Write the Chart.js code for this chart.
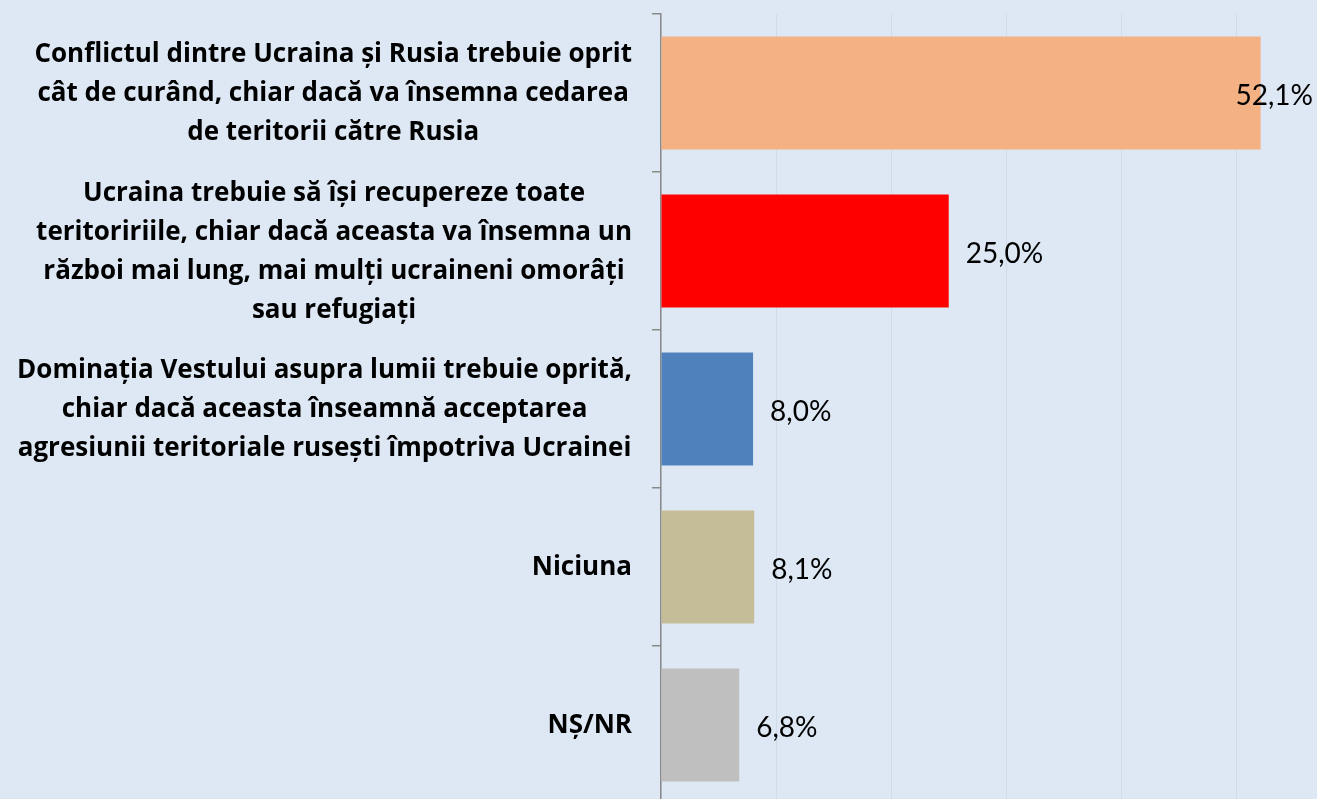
<!DOCTYPE html>
<html>
<head>
<meta charset="utf-8">
<script src="https://cdn.jsdelivr.net/npm/chart.js@4"></script>
<style>
    html, body { margin: 0; padding: 0; background: #dde8f4; overflow: hidden; }
    #wrap { position: relative; width: 1317px; height: 804px; }
</style>
</head>
<body>
<div id="wrap"><canvas id="chart"></canvas></div>
<script>
// Categories (multi-line, as in the original)
const categories = [
    ['Conflictul dintre Ucraina și Rusia trebuie oprit', 'cât de curând, chiar dacă va însemna cedarea', 'de teritorii către Rusia'],
    ['Ucraina trebuie să își recupereze toate', 'teritoririile, chiar dacă aceasta va însemna un', 'război mai lung, mai mulți ucraineni omorâți', 'sau refugiați'],
    ['Dominația Vestului asupra lumii trebuie oprită,', 'chiar dacă aceasta înseamnă acceptarea', 'agresiunii teritoriale rusești împotriva Ucrainei'],
    ['Niciuna'],
    ['NȘ/NR']
];
const values = [52.1, 25.0, 8.0, 8.1, 6.8];
const barColors = ['#f4b183', '#ff0000', '#4f81bd', '#c4bd97', '#bfbfbf'];

const labelFont = 'bold 26px "Open Sans", Lato, sans-serif';
const valueFont = '28px Lato, "Open Sans", sans-serif';

// Draws the category labels (right-aligned block, centered lines) and the value labels
const labelsPlugin = {
    id: 'labels',
    afterDraw(chart) {
        const ctx = chart.ctx;
        const yScale = chart.scales.y;
        const area = chart.chartArea;
        ctx.save();
        ctx.fillStyle = '#000';
        ctx.textBaseline = 'middle';

        // category labels
        ctx.font = labelFont;
        ctx.textAlign = 'center';
        const lineH = 39;
        categories.forEach((lines, i) => {
            const maxW = Math.max(...lines.map(l => ctx.measureText(l).width));
            const right = area.left - 29;
            const cx = right - maxW / 2;
            const cy = yScale.getPixelForTick(i);
            const y0 = cy - (lines.length - 1) * lineH / 2;
            lines.forEach((l, k) => ctx.fillText(l, cx, y0 + k * lineH + 1));
        });

        // value labels
        ctx.font = valueFont;
        ctx.textAlign = 'left';
        chart.getDatasetMeta(0).data.forEach((bar, i) => {
            const txt = values[i].toFixed(1).replace('.', ',') + '%';
            const w = ctx.measureText(txt).width;
            const x = Math.min(bar.x + 17, chart.width - 4 - w);
            ctx.fillText(txt, x, bar.y + 3);
        });
        ctx.restore();
    }
};

new Chart(document.getElementById('chart'), {
    type: 'bar',
    data: {
        labels: categories,
        datasets: [{
            data: values,
            backgroundColor: barColors,
            categoryPercentage: 1,
            barPercentage: 0.715
        }]
    },
    options: {
        indexAxis: 'y',
        responsive: true,
        maintainAspectRatio: false,
        animation: false,
        layout: { padding: { top: 14, right: 0, bottom: 0, left: 0 } },
        plugins: {
            legend: { display: false },
            tooltip: { enabled: false }
        },
        scales: {
            x: {
                min: 0,
                max: 57,
                ticks: { display: false, stepSize: 10 },
                grid: { color: '#d2dce8', drawTicks: false },
                border: { display: false }
            },
            y: {
                ticks: { display: false },
                grid: {
                    offset: true,
                    drawOnChartArea: false,
                    tickLength: 9,
                    color: '#8a8a8a',
                    lineWidth: 1.5
                },
                border: { color: '#8a8a8a', width: 1.5 },
                afterFit(scale) { scale.width = 661; }
            }
        }
    },
    plugins: [labelsPlugin]
});
</script>
</body>
</html>
